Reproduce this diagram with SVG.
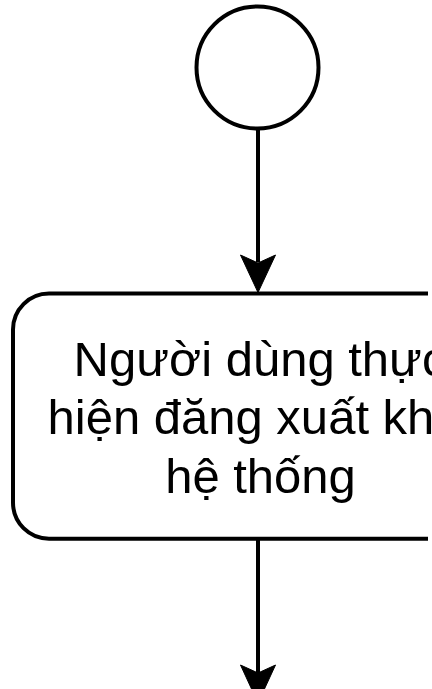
<svg xmlns="http://www.w3.org/2000/svg" width="432" height="689" viewBox="0 0 432 689">
<style>
.shape{fill:#ffffff;stroke:#000000;stroke-width:4}
.edge{fill:none;stroke:#000000;stroke-width:4}
.head{fill:#000000;stroke:#000000;stroke-width:1}
.label{font-family:"Liberation Sans",Arial,sans-serif;font-size:49px;fill:#000000;text-anchor:middle}
</style>
<rect x="0" y="0" width="432" height="689" fill="#ffffff"/>
<g id="start">
<circle class="shape" cx="257.5" cy="67.5" r="61"/>
</g>
<g id="action">
<path class="shape" d="M428,293.5 H49 A36,36 0 0 0 13,329.5 V502.7 A36,36 0 0 0 49,538.7 H428"/>
<text class="label" x="260" y="376">Người dùng thực</text>
<text class="label" x="260" y="434">hiện đăng xuất khỏi</text>
<text class="label" x="260.5" y="493">hệ thống</text>
</g>
<g id="connectors">
<line class="edge" x1="258" y1="129" x2="258" y2="262"/>
<path class="head" d="M258,292.5 L240.5,255 L258,263 L275.5,255 Z"/>
<line class="edge" x1="258" y1="540" x2="258" y2="673"/>
<path class="head" d="M258,703 L240.5,665 L258,673 L275.5,665 Z"/>
</g>
</svg>
